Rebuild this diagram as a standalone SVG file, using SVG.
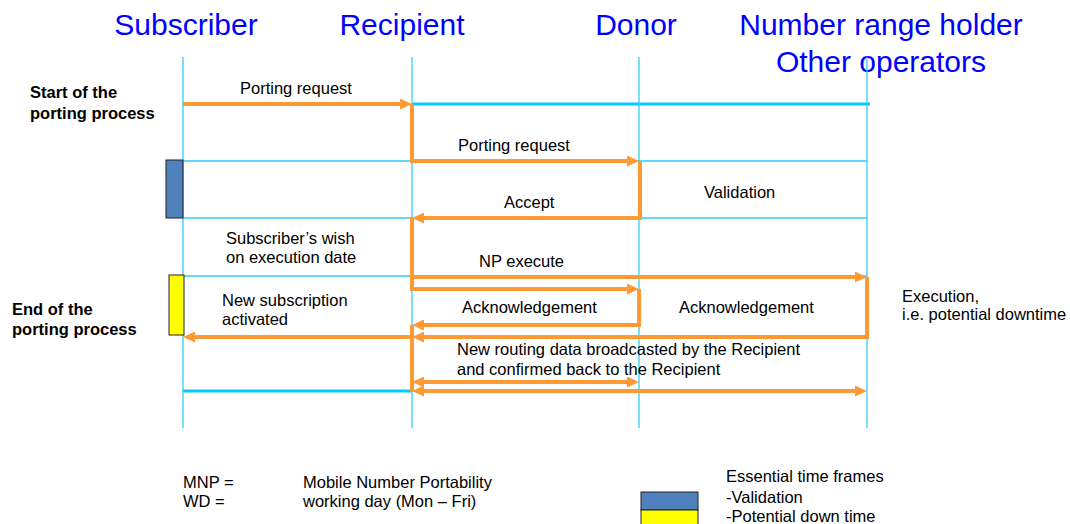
<svg xmlns="http://www.w3.org/2000/svg" width="1070" height="524" viewBox="0 0 1070 524">
<style>
.hdr{font-family:"Liberation Sans",Arial,sans-serif;font-size:30px;fill:#0000FF;text-anchor:middle}
.t{font-family:"Liberation Sans",Arial,sans-serif;font-size:16.5px;fill:#000}
.b{font-family:"Liberation Sans",Arial,sans-serif;font-size:16.5px;font-weight:bold;fill:#000}
.life{stroke:#33CCFF;stroke-width:1.3;fill:none}
.cy{stroke:#33CCFF;stroke-width:1.3;fill:none}
.cyt{stroke:#00CCFF;stroke-width:3;fill:none}
.or{stroke:#FF9933;stroke-width:4;fill:none;stroke-linejoin:miter}
</style>
<defs>
<marker id="ah" viewBox="0 0 12 11" refX="6" refY="5.5" markerWidth="12" markerHeight="11" markerUnits="userSpaceOnUse" orient="auto-start-reverse">
<path d="M0,0 L12,5.5 L0,11 z" fill="#FF9933"/>
</marker>
</defs>
<rect width="1070" height="524" fill="#fff"/>
<g id="grid">
<path class="cy" d="M183,161 H867 M183,218 H867 M183,276 H867"/>
<path class="cyt" d="M412,104 H870 M183,391 H412"/>
</g>
<g id="subscriber">
<text class="hdr" x="186" y="35">Subscriber</text>
<line class="life" x1="183" y1="57" x2="183" y2="428"/>
</g>
<g id="recipient">
<text class="hdr" x="402" y="35">Recipient</text>
<line class="life" x1="412" y1="57" x2="412" y2="428"/>
</g>
<g id="donor">
<text class="hdr" x="636" y="35">Donor</text>
<line class="life" x1="639" y1="57" x2="639" y2="428"/>
</g>
<g id="nrh">
<text class="hdr" x="881" y="35">Number range holder</text>
<text class="hdr" x="881" y="72">Other operators</text>
<line class="life" x1="867" y1="57" x2="867" y2="428"/>
</g>
<g id="validation-frame"><rect x="166" y="160" width="17" height="58" fill="#4F81BD" stroke="#222" stroke-width="1"/></g>
<g id="downtime-frame"><rect x="169" y="275" width="15" height="60" fill="#FFFF00" stroke="#222" stroke-width="1"/></g>
<g id="connectors">
<path class="or" d="M183,104 H406" marker-end="url(#ah)"/>
<path class="or" d="M412,104 V161 H633" marker-end="url(#ah)"/>
<path class="or" d="M640,161 V218 H418" marker-end="url(#ah)"/>
<path class="or" d="M412,218 V277 H861" marker-end="url(#ah)"/>
<path class="or" d="M412,277 V289 H633" marker-end="url(#ah)"/>
<path class="or" d="M639,289 V325 H418" marker-end="url(#ah)"/>
<path class="or" d="M867,277 V337 H418" marker-end="url(#ah)"/>
<path class="or" d="M412,337 H189" marker-end="url(#ah)"/>
<path class="or" d="M412,325 V392"/>
<path class="or" d="M418,382 H633" marker-start="url(#ah)" marker-end="url(#ah)"/>
<path class="or" d="M418,391 H861" marker-start="url(#ah)" marker-end="url(#ah)"/>
</g>
<g id="labels">
<text class="b" x="30" y="98">Start of the</text>
<text class="b" x="30" y="119">porting process</text>
<text class="b" x="12" y="315">End of the</text>
<text class="b" x="12" y="335">porting process</text>
<text class="t" x="240" y="94">Porting request</text>
<text class="t" x="458" y="151">Porting request</text>
<text class="t" x="704" y="198">Validation</text>
<text class="t" x="504" y="208">Accept</text>
<text class="t" x="226" y="244">Subscriber’s wish</text>
<text class="t" x="226" y="263">on execution date</text>
<text class="t" x="479" y="267">NP execute</text>
<text class="t" x="222" y="306">New subscription</text>
<text class="t" x="222" y="325">activated</text>
<text class="t" x="462" y="313">Acknowledgement</text>
<text class="t" x="679" y="313">Acknowledgement</text>
<text class="t" x="902" y="302">Execution,</text>
<text class="t" x="902" y="320">i.e. potential downtime</text>
<text class="t" x="457" y="355">New routing data broadcasted by the Recipient</text>
<text class="t" x="457" y="375">and confirmed back to the Recipient</text>
</g>
<g id="legend">
<text class="t" x="183" y="488">MNP =</text>
<text class="t" x="183" y="507">WD =</text>
<text class="t" x="303" y="488">Mobile Number Portability</text>
<text class="t" x="303" y="507">working day (Mon – Fri)</text>
<rect x="641" y="492" width="57" height="18" fill="#4F81BD" stroke="#222" stroke-width="1"/>
<rect x="641" y="510" width="57" height="16" fill="#FFFF00" stroke="#222" stroke-width="1"/>
<text class="t" x="726" y="482">Essential time frames</text>
<text class="t" x="726" y="503">-Validation</text>
<text class="t" x="726" y="522">-Potential down time</text>
</g>
</svg>
